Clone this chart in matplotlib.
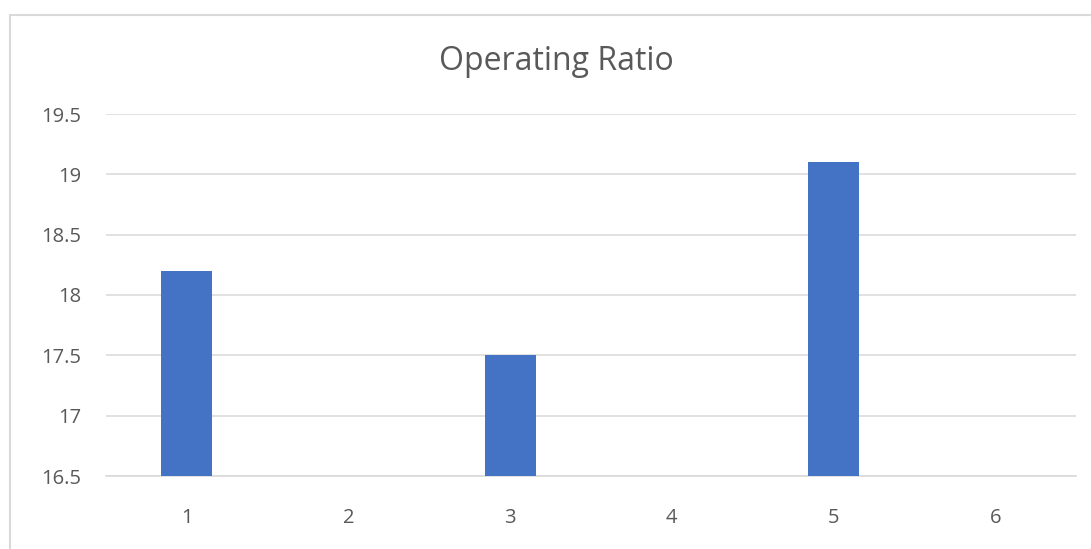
import matplotlib
matplotlib.use("Agg")
import matplotlib.pyplot as plt
from matplotlib.patches import Rectangle
import numpy as np

# Operating ratio by period; blank periods have no reported value
categories = ["1", "2", "3", "4", "5", "6"]
values = [18.2, np.nan, 17.5, np.nan, 19.1, np.nan]
y_ticks = [16.5, 17, 17.5, 18, 18.5, 19, 19.5]
title = "Operating Ratio"

BAR_COLOR = "#4472C4"
TEXT_COLOR = "#595959"
GRID_COLOR = "#D9D9D9"

plt.rcParams["font.family"] = ["Open Sans", "DejaVu Sans"]

fig = plt.figure(figsize=(10.91, 5.49), dpi=100)
fig.patch.set_facecolor("white")

# chart-area frame (only left and top edges fall inside the canvas)
fig.add_artist(Rectangle((10 / 1091, -0.05), 1.1, 1 - 14.5 / 549 + 0.05,
                         transform=fig.transFigure, fill=False,
                         edgecolor=GRID_COLOR, linewidth=1.5))

ax = fig.add_axes([106 / 1091, 1 - 476 / 549, 970 / 1091, (476 - 114) / 549])
x = np.arange(len(categories))
ax.bar(x, values, width=0.316, color=BAR_COLOR, zorder=3)

ax.set_xlim(-0.5, len(categories) - 0.5)
ax.set_ylim(y_ticks[0], y_ticks[-1])
ax.set_yticks(y_ticks)
ax.set_yticklabels([f"{t:g}" for t in y_ticks])
ax.set_xticks(x)
ax.set_xticklabels(categories)

ax.grid(axis="y", color=GRID_COLOR, linewidth=1.1, zorder=0)
for side in ("left", "right", "top"):
    ax.spines[side].set_visible(False)
ax.spines["bottom"].set_color(GRID_COLOR)
ax.spines["bottom"].set_linewidth(1.1)
ax.tick_params(axis="both", length=0, labelsize=14.5, labelcolor=TEXT_COLOR)
ax.tick_params(axis="y", pad=18)
ax.tick_params(axis="x", pad=23)

fig.text(556 / 1091, 1 - 61 / 549, title, ha="center", va="center",
         fontsize=23, color=TEXT_COLOR)

fig.savefig("out.png", dpi=100, facecolor="white")
